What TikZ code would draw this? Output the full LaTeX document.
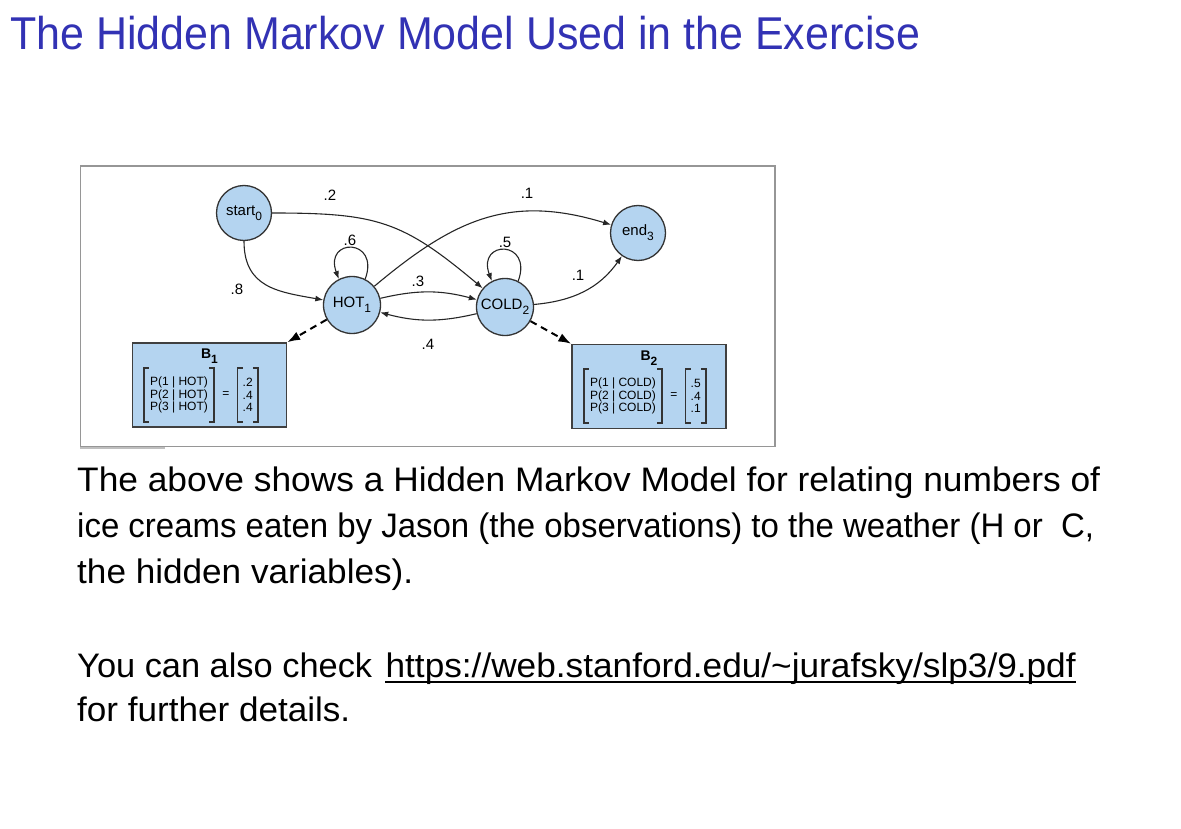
\documentclass[tikz,border=0pt]{standalone}
\usepackage{fontspec}
\setmainfont{Liberation Sans}
\usepackage{graphicx}
\usetikzlibrary{arrows.meta, positioning}

\definecolor{titleblue}{RGB}{50,50,180}
\definecolor{statefill}{RGB}{180,212,240}
\definecolor{framegray}{RGB}{150,150,150}

\newcommand{\fitline}[2]{\resizebox{#1pt}{\height}{#2}}
\newcommand{\lowsub}[1]{\raisebox{-0.35em}{\fontsize{12}{12}\selectfont#1}}

\begin{document}
\begin{tikzpicture}[x=1pt,y=1pt,
  state/.style={circle,draw=black!80,line width=1.3pt,fill=statefill,
    minimum size=55pt,inner sep=0pt,font=\fontsize{15}{15}\selectfont},
  emitbox/.style={draw=black!75,line width=1.3pt,fill=statefill,
    minimum width=154pt,minimum height=84pt,inner sep=0pt},
  vecbox/.style={align=left,inner xsep=6pt,inner ysep=0pt,minimum height=53pt,
    font=\fontsize{12}{12.5}\selectfont},
  bracket/.style={line width=1.8pt,draw=black!80},
  prob/.style={inner sep=0pt,font=\fontsize{15}{15}\selectfont},
  trans/.style={-{Latex[length=8pt,width=6pt]},line width=1.1pt,draw=black!85},
  emit/.style={-{Latex[length=13pt,width=9pt]},line width=2pt,
    dash pattern=on 7pt off 5pt},
  bodyline/.style={anchor=base west,inner sep=0pt,font=\fontsize{34}{34}\selectfont}]

  \useasboundingbox (0,0) rectangle (1181,-829);

  % title
  \node[anchor=base west,inner sep=0pt,text=titleblue,
    font=\fontsize{46}{46}\selectfont] (title) at (10,-50)
    {\fitline{910}{The Hidden Markov Model Used in the Exercise}};

  % figure frame
  \draw[framegray,line width=1pt] (80,-166) rectangle (775,-446);
  \draw[framegray,line width=2.5pt] (80,-166) -- (775,-166) -- (775,-446);
  \draw[black!25,line width=2pt] (80,-448) -- (165,-448);

  % states
  \node[state] (start0) at (244,-213) {start\lowsub{0}};
  \node[state] (end3) at (638,-233) {end\lowsub{3}};
  \node[state,minimum size=57pt] (hot1) at (352,-305) {HOT\lowsub{1}};
  \node[state,minimum size=57pt] (cold2) at (505,-307) {COLD\lowsub{2}};

  % emission boxes
  \node[emitbox] (b1) at (209.5,-385) {};
  \node[inner sep=0pt,font=\bfseries\fontsize{14}{14}\selectfont] (b1title)
    at (209.5,-356) {B\lowsub{1}};
  \node[vecbox] (b1lhs) at (179,-395) {P(1 | HOT)\\P(2 | HOT)\\P(3 | HOT)};
  \node[vecbox,inner xsep=0pt,right=8pt of b1lhs] (b1eq) {=};
  \node[vecbox,inner xsep=5pt,right=8pt of b1eq] (b1rhs) {.2\\.4\\.4};

  \node[emitbox] (b2) at (649,-386.5) {};
  \node[inner sep=0pt,font=\bfseries\fontsize{14}{14}\selectfont] (b2title)
    at (649,-358) {B\lowsub{2}};
  \node[vecbox] (b2lhs) at (623,-396) {P(1 | COLD)\\P(2 | COLD)\\P(3 | COLD)};
  \node[vecbox,inner xsep=0pt,right=8pt of b2lhs] (b2eq) {=};
  \node[vecbox,inner xsep=5pt,right=8pt of b2eq] (b2rhs) {.5\\.4\\.1};

  \foreach \v in {b1lhs,b1rhs,b2lhs,b2rhs}{
    \draw[bracket] ([xshift=5pt]\v.north west) -- (\v.north west)
      -- (\v.south west) -- ([xshift=5pt]\v.south west);
    \draw[bracket] ([xshift=-5pt]\v.north east) -- (\v.north east)
      -- (\v.south east) -- ([xshift=-5pt]\v.south east);
  }

  % transitions
  \draw[trans] (start0) to[out=-90,in=170,looseness=1.2] (hot1);
  \draw[trans] (start0) to[out=0,in=140,looseness=1.2] (cold2);
  \draw[trans] (hot1) to[out=40,in=163,looseness=1.1] (end3);
  \draw[trans] (hot1) to[bend left=14] (cold2);
  \draw[trans] (cold2) to[bend left=14] (hot1);
  \draw[trans] (cold2) to[out=5,in=235] (end3);
  \draw[trans] (hot1.63) .. controls +(70:44) and +(110:44) .. (hot1.117);
  \draw[trans] (cold2.63) .. controls +(70:44) and +(110:44) .. (cold2.117);
  \draw[emit] (hot1) -- (b1.north east);
  \draw[emit] (cold2) -- (b2.north west);

  \node[prob] (p8) at (237,-289) {.8};
  \node[prob] (p2) at (330,-195) {.2};
  \node[prob] (p6) at (350,-240) {.6};
  \node[prob] (p3) at (418,-281) {.3};
  \node[prob] (p4) at (428,-344) {.4};
  \node[prob] (p5) at (505,-242) {.5};
  \node[prob] (p1a) at (527,-193) {.1};
  \node[prob] (p1b) at (578,-275) {.1};

  % text below
  \node[bodyline] (l1) at (77,-491)
    {\fitline{1023}{The above shows a Hidden Markov Model for relating numbers of}};
  \node[bodyline] (l2) at (77,-537)
    {\fitline{1017}{ice creams eaten by Jason (the observations) to the weather (H or\ \ C,}};
  \node[bodyline] (l3) at (77,-583) {\fitline{336}{the hidden variables).}};
  \node[bodyline] (l4) at (77,-677) {\fitline{295}{You can also check}};
  \node[bodyline] (link) at ([xshift=13pt]l4.base east)
    {\fitline{690}{https://web.stanford.edu/\textasciitilde jurafsky/slp3/9.pdf}};
  \draw[line width=1.5pt] ([yshift=-5pt]link.base west) -- ([yshift=-5pt]link.base east);
  \node[bodyline] (l5) at (77,-721) {\fitline{273}{for further details.}};
\end{tikzpicture}
\end{document}
